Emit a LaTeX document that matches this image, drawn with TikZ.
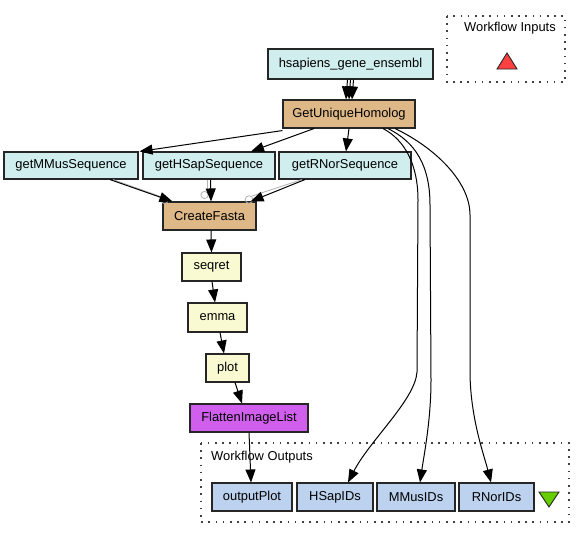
\documentclass[tikz,border=0pt]{standalone}
\usepackage{fontspec}
\setmainfont{Liberation Sans}
\usetikzlibrary{arrows.meta}
\definecolor{bmcyan}{HTML}{D1EEEE}
\definecolor{bshtan}{HTML}{DEB887}
\definecolor{soapy}{HTML}{FAFAD2}
\definecolor{lworch}{HTML}{D15FEE}
\definecolor{outblue}{HTML}{BCD2EE}
\definecolor{inred}{HTML}{FF4040}
\definecolor{outgreen}{HTML}{66CD00}
\tikzset{
  box/.style={draw=black!85, line width=1.1pt, inner sep=0pt, font=\fontsize{12.9}{15}\selectfont, text=black},
  cyanbox/.style={box, fill=bmcyan},
  tanbox/.style={box, fill=bshtan},
  yelbox/.style={box, fill=soapy},
  orchbox/.style={box, fill=lworch},
  portbox/.style={box, fill=outblue},
  arr/.style={line width=1pt, -{Triangle[length=13pt,width=10pt]}},
  shadowline/.style={line width=0.8pt, black!30},
  portcirc/.style={draw=black!30, line width=0.8pt},
  dotbox/.style={draw=black!75, line width=1.3pt, dash pattern=on 1.6pt off 5.6pt},
  lbl/.style={font=\fontsize{12.9}{15}\selectfont, inner sep=0pt}
}
\begin{document}
\begin{tikzpicture}[x=1pt,y=-1pt]
\useasboundingbox (0,0) rectangle (585,539);
\fill[white] (0,0) rectangle (585,539);

% workflow inputs / outputs frames
\draw[dotbox] (447,16) rectangle (565,82);
\node[lbl] (inlbl) at (510,28.5) {Workflow Inputs};
\draw[fill=inred, draw=black!85, line width=0.9pt] (497,69) -- (517,69) -- (507,53) -- cycle;

\draw[dotbox] (201,443) rectangle (569,522);
\node[lbl, anchor=west] (outlbl) at (211,457) {Workflow Outputs};
\draw[fill=outgreen, draw=black!85, line width=0.9pt] (539,492) -- (559,492) -- (549,507) -- cycle;

% nodes
\node[cyanbox, minimum width=165pt, minimum height=30pt] (hs) at (350.5,64) {hsapiens\_gene\_ensembl};
\node[tanbox, minimum width=132pt, minimum height=28pt] (guh) at (349,114) {GetUniqueHomolog};
\node[cyanbox, minimum width=134pt, minimum height=27pt] (mmus) at (71,165.5) {getMMusSequence};
\node[cyanbox, minimum width=132pt, minimum height=27pt] (hsap) at (209,165.5) {getHSapSequence};
\node[cyanbox, minimum width=132pt, minimum height=27pt] (rnor) at (345,165.5) {getRNorSequence};
\node[tanbox, minimum width=93pt, minimum height=28pt] (cf) at (209.5,216) {CreateFasta};
\node[yelbox, minimum width=59pt, minimum height=28pt] (seqret) at (211.5,267) {seqret};
\node[yelbox, minimum width=59pt, minimum height=29pt] (emma) at (217.5,317.5) {emma};
\node[yelbox, minimum width=43pt, minimum height=28pt] (plot) at (227.5,368) {plot};
\node[orchbox, minimum width=118pt, minimum height=28pt] (flat) at (249,418) {FlattenImageList};
\node[portbox, minimum width=80pt, minimum height=28pt] (oplot) at (252,497) {outputPlot};
\node[portbox, minimum width=76pt, minimum height=28pt] (ohsap) at (335,497) {HSapIDs};
\node[portbox, minimum width=78pt, minimum height=28pt] (ommus) at (416,497) {MMusIDs};
\node[portbox, minimum width=75pt, minimum height=28pt] (ornor) at (496.5,497) {RNorIDs};

% hsapiens -> GetUniqueHomolog (three parallel links)
\draw[arr] ([xshift=-3pt]hs.south) -- ([xshift=-3pt]guh.north);
\draw[arr] (hs.south) -- (guh.north);
\draw[arr] ([xshift=3pt]hs.south) -- ([xshift=3pt]guh.north);

% GetUniqueHomolog -> sequence fetchers
\draw[arr] ([yshift=-2pt]guh.south west) -- ([xshift=1pt]mmus.north east);
\draw[arr] ([xshift=-35pt]guh.south) -- ([xshift=42pt]hsap.north);
\draw[arr] (guh.south) -- ([xshift=1pt]rnor.north);

% GetUniqueHomolog -> outputs (long curves)
\draw[arr] ([xshift=34pt]guh.south) .. controls (405,140) and (418,165) .. (418,200)
  -- (417,372) .. controls (415,400) and (370,440) .. ([xshift=13pt]ohsap.north);
\draw[arr] ([xshift=39pt]guh.south) .. controls (415,142) and (430,165) .. (430,205)
  -- (431,380) .. controls (431,420) and (424,455) .. ([xshift=4pt]ommus.north);
\draw[arr] ([xshift=46pt]guh.south) .. controls (432,146) and (470,180) .. (470,215)
  -- (470,375) .. controls (471,420) and (484,455) .. ([xshift=-5.5pt]ornor.north);

% sequences -> CreateFasta (gray shadow links with port circles)
\draw[shadowline] ([xshift=42pt]mmus.south) -- (162,197);
\draw[shadowline] ([xshift=-2pt]hsap.south) -- (207,191.5);
\draw[shadowline] ([xshift=-43pt]rnor.south) -- (252,196);
\draw[portcirc] (164.5,200) circle (3.6pt);
\draw[portcirc] (204.5,195) circle (3.6pt);
\draw[portcirc] (249,199.5) circle (3.8pt);
\draw[arr] ([xshift=39pt]mmus.south) -- ([xshift=10pt]cf.north west);
\draw[arr] ([xshift=1.5pt]hsap.south) -- ([xshift=1.5pt]cf.north);
\draw[arr] ([xshift=-40pt]rnor.south) -- ([xshift=-6pt]cf.north east);

% pipeline chain
\draw[arr] ([xshift=1.5pt]cf.south) -- (seqret.north);
\draw[arr] ([xshift=0.5pt]seqret.south) -- ([xshift=-2.5pt]emma.north);
\draw[arr] ([xshift=2.5pt]emma.south) -- ([xshift=-3.5pt]plot.north);
\draw[arr] ([xshift=7.5pt]plot.south) -- ([xshift=-7pt]flat.north);
\draw[arr] (flat.south) -- ([xshift=-1pt]oplot.north);
\end{tikzpicture}
\end{document}
